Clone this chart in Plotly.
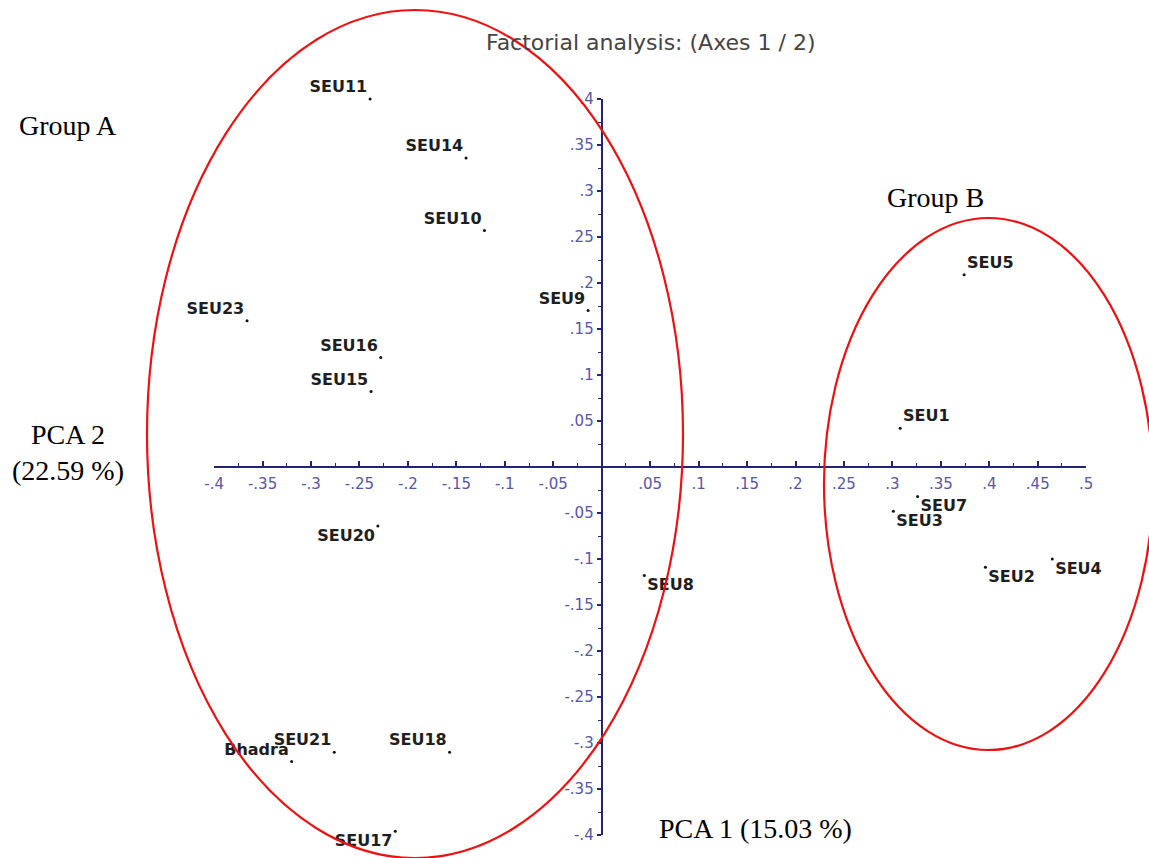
import plotly.graph_objects as go

# ---- data ----
names = ["SEU1", "SEU2", "SEU3", "SEU4", "SEU5", "SEU7", "SEU8", "SEU9", "SEU10",
         "SEU11", "SEU14", "SEU15", "SEU16", "SEU17", "SEU18", "SEU20", "SEU21",
         "SEU23", "Bhadra"]
pca1 = [0.308, 0.396, 0.301, 0.465, 0.374, 0.326, 0.044, -0.014, -0.121,
        -0.239, -0.140, -0.238, -0.228, -0.213, -0.157, -0.231, -0.276,
        -0.366, -0.320]
pca2 = [0.042, -0.109, -0.048, -0.100, 0.209, -0.032, -0.118, 0.170, 0.257,
        0.400, 0.336, 0.082, 0.119, -0.396, -0.310, -0.064, -0.310,
        0.159, -0.320]

x_tickvals = [-0.4, -0.35, -0.3, -0.25, -0.2, -0.15, -0.1, -0.05,
              0.05, 0.1, 0.15, 0.2, 0.25, 0.3, 0.35, 0.4, 0.45, 0.5]
x_ticktext = ["-.4", "-.35", "-.3", "-.25", "-.2", "-.15", "-.1", "-.05",
              ".05", ".1", ".15", ".2", ".25", ".3", ".35", ".4", ".45", ".5"]
y_tickvals = [0.4, 0.35, 0.3, 0.25, 0.2, 0.15, 0.1, 0.05,
              -0.05, -0.1, -0.15, -0.2, -0.25, -0.3, -0.35, -0.4]
y_ticktext = [".4", ".35", ".3", ".25", ".2", ".15", ".1", ".05",
              "-.05", "-.1", "-.15", "-.2", "-.25", "-.3", "-.35", "-.4"]

title_text = "Factorial analysis: (Axes 1 / 2)"
x_title = "PCA 1 (15.03 %)"
y_title = "PCA 2<br>(22.59 %)"

# ---- label placement (style) ----
label_pos = ["top right", "bottom right", "bottom right", "bottom right", "top right",
             "bottom right", "bottom right", "top left", "top left",
             "top left", "top left", "top left", "top left", "bottom left",
             "top left", "bottom left", "top left", "top left", "top left"]

W, H = 1149, 858
AXIS = "#25256e"
TICKC = "#5656a6"

fig = go.Figure()
fig.add_trace(go.Scatter(
    x=pca1, y=pca2, mode="markers+text", text=names,
    textposition=label_pos,
    textfont=dict(family="DejaVu Sans", size=16, color="#1e1e1e", weight="bold"),
    marker=dict(size=3, color="#111111"),
    cliponaxis=False, showlegend=False, hoverinfo="text",
))

fig.update_layout(
    width=W, height=H,
    margin=dict(l=0, r=0, t=0, b=0, pad=0, autoexpand=False),
    paper_bgcolor="white", plot_bgcolor="white",
    xaxis=dict(
        domain=[214.1 / W, 1086.2 / W], range=[-0.4, 0.5],
        anchor="free", position=(H - 467) / H,
        showline=True, linecolor=AXIS, linewidth=2,
        showgrid=False, zeroline=False,
        tickvals=x_tickvals, ticktext=x_ticktext,
        ticks="inside", ticklen=5, tickwidth=1.5, tickcolor=AXIS,
        minor=dict(dtick=0.025, tick0=0, ticks="inside", ticklen=3, tickwidth=1.2, tickcolor=AXIS),
        tickfont=dict(family="DejaVu Sans", size=15, color=TICKC),
        ticklabelstandoff=3,
    ),
    yaxis=dict(
        domain=[(H - 835) / H, (H - 99) / H], range=[-0.4, 0.4],
        anchor="free", position=601.7 / W,
        showline=True, linecolor=AXIS, linewidth=2,
        showgrid=False, zeroline=False,
        tickvals=y_tickvals, ticktext=y_ticktext,
        ticks="outside", ticklen=4, tickwidth=1.5, tickcolor=AXIS,
        minor=dict(dtick=0.025, tick0=0, ticks="outside", ticklen=3, tickwidth=1.2, tickcolor=AXIS),
        tickfont=dict(family="DejaVu Sans", size=15, color=TICKC),
    ),
)

serif = dict(family="Liberation Serif", size=28, color="black")
anns = [
    dict(x=650 / W, y=1 - 42 / H, text=title_text,
         font=dict(family="DejaVu Sans", size=22, color="#444444")),
    dict(x=68 / W, y=1 - 125 / H, text="Group A", font=serif),
    dict(x=935 / W, y=1 - 197 / H, text="Group B", font=serif),
    dict(x=68 / W, y=1 - 452 / H, text=y_title, font=serif),
    dict(x=755 / W, y=1 - 828 / H, text=x_title, font=serif),
]
for a in anns:
    fig.add_annotation(xref="paper", yref="paper", xanchor="center", yanchor="middle",
                       showarrow=False, **a)

# group ellipses
fig.add_shape(type="circle", xref="paper", yref="paper",
              x0=147 / W, x1=683 / W, y0=1 - 858 / H, y1=1 - 10 / H,
              line=dict(color="#ee1111", width=2.2))
fig.add_shape(type="circle", xref="paper", yref="paper",
              x0=824 / W, x1=1153 / W, y0=1 - 750 / H, y1=1 - 218 / H,
              line=dict(color="#ee1111", width=2.2))

fig.write_html("out.html",
               config={"displayModeBar": False},
               post_script="document.body.style.margin='0';document.body.style.overflow='hidden';")
